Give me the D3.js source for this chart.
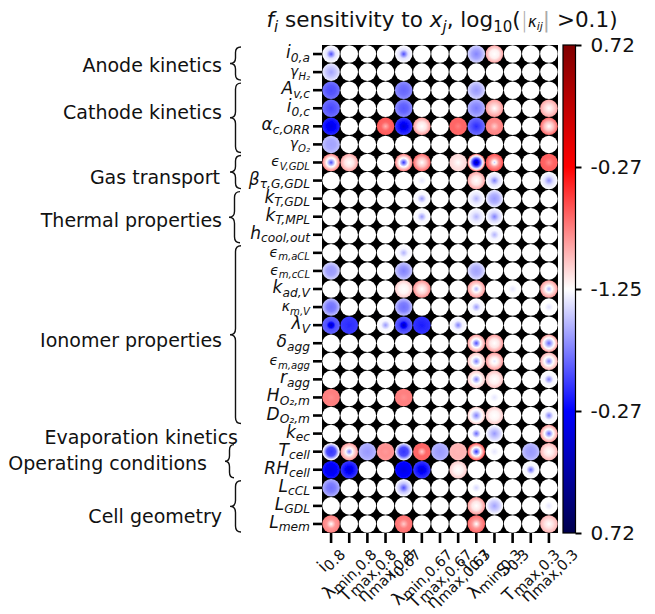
<!DOCTYPE html>
<html><head><meta charset="utf-8">
<script src="https://cdn.jsdelivr.net/npm/d3@7"></script>
<style>
body{margin:0;background:#fff;}
text{font-family:"DejaVu Sans",sans-serif;fill:#111;}
</style></head><body>
<svg id="c" width="655" height="614"></svg>
<script>
// ---------------- data ----------------
const rowMain = ["i","γ","A","i","α","γ","ϵ","β","k","k","h","ϵ","ϵ","k","κ","λ","δ","ϵ","r","H","D","k","T","RH","L","L","L"];
const rowSub  = ["0,a","H₂","v,c","0,c","c,ORR","O₂","V,GDL","τ,G,GDL","T,GDL","T,MPL","cool,out","m,aCL","m,cCL","ad,V","m,V","V","agg","m,agg","agg","O₂,m","O₂,m","ec","cell","cell","cCL","GDL","mem"];
const colMain = ["i","λ","T","η","i","λ","T","η","i","λ","S","T","η"];
const colSub  = ["0.8","min,0.8","max,0.8","max,0.8","0.67","min,0.67","max,0.67","max,0.67","0.3","min,0.3","0.3","max,0.3","max,0.3"];
const groupNames = ["Anode kinetics","Cathode kinetics","Gas transport","Thermal properties","Ionomer properties","Evaporation kinetics","Operating conditions","Cell geometry"];
const groupFirstRow = [0,2,6,8,11,21,22,24];
const groupLastRow  = [1,5,7,10,20,21,23,26];
const cbTickValues = [1,0.5,0,-0.5,-1];
const cbTickLabels = ["0.72","-0.27","-1.25","-0.27","0.72"];
// [row, col, centre value, mid-radius value, edge value] on the colour scale (-1..1); unlisted cells are 0
const cells = [
 [0,0,-0.35,-0.06,0],[0,4,-0.35,-0.06,0],[0,8,-0.24,-0.18,-0.08],[0,9,0,0.03,0.18],
 [1,0,-0.18,-0.12,-0.04],
 [2,0,-0.35,-0.33,-0.27],[2,4,-0.3,-0.28,-0.22],[2,8,-0.2,-0.16,-0.08],
 [3,0,-0.36,-0.33,-0.28],[3,4,-0.33,-0.3,-0.22],[3,8,-0.26,-0.22,-0.15],[3,9,0,0.1,0.2],[3,12,0,0.08,0.18],
 [4,0,-0.58,-0.5,-0.42],[4,3,0.15,0.3,0.33],[4,4,-0.62,-0.48,-0.38],[4,5,0,0.05,0.2],[4,7,0.25,0.3,0.3],[4,8,-0.42,-0.35,-0.28],[4,9,0.1,0.22,0.25],[4,12,0,0.12,0.3],
 [5,0,-0.18,-0.17,-0.12],
 [6,0,-0.35,0,0.25],[6,1,0,0.05,0.18],[6,4,-0.4,0,0.25],[6,5,0,0.12,0.3],[6,7,0,0.05,0.08],[6,8,-0.75,-0.3,0.3],[6,9,-0.1,0.2,0.35],[6,12,0.22,0.3,0.32],
 [7,5,-0.05,0,0],[7,8,0,0.05,0.18],[7,9,-0.25,-0.06,0],[7,12,-0.22,-0.06,0],
 [8,5,-0.2,-0.02,0],[8,8,-0.15,-0.05,0],[8,9,-0.2,-0.15,-0.03],
 [9,5,-0.2,-0.02,0],[9,8,-0.15,-0.05,0],[9,9,-0.25,-0.08,0],
 [10,9,-0.15,-0.02,0],
 [11,4,-0.15,-0.02,0],
 [12,0,-0.2,-0.18,-0.08],[12,4,-0.25,-0.2,-0.1],[12,8,-0.18,-0.15,-0.06],
 [13,4,0,0.02,0.1],[13,5,0,0.08,0.22],[13,8,-0.15,0.05,0.2],[13,10,-0.05,0,0],[13,12,-0.15,0.05,0.2],
 [14,0,-0.28,-0.25,-0.12],[14,4,-0.28,-0.25,-0.12],[14,8,-0.2,-0.02,0],[14,12,-0.06,0,0],
 [15,0,-0.7,-0.35,-0.3],[15,1,-0.42,-0.4,-0.38],[15,3,-0.2,-0.02,0],[15,4,-0.7,-0.38,-0.3],[15,5,-0.45,-0.42,-0.4],[15,7,-0.25,-0.03,0],
 [16,8,-0.35,0,0.2],[16,9,0,0.05,0.2],[16,12,-0.3,-0.05,0.2],
 [17,8,-0.25,0,0.12],[17,9,-0.05,0.05,0.2],[17,12,-0.25,0,0.15],
 [18,8,-0.25,0,0.1],[18,9,0,0.03,0.12],[18,12,-0.25,-0.02,0],
 [19,0,0.22,0.25,0.25],[19,4,0.22,0.25,0.25],[19,9,-0.05,0,0],
 [20,8,-0.25,-0.05,0.1],[20,9,0,0.02,0.1],[20,12,-0.25,-0.02,0],
 [21,8,-0.3,-0.01,0],[21,9,-0.2,-0.1,0],[21,12,-0.3,0,0.2],
 [22,0,-0.4,-0.35,0.05],[22,1,-0.25,0.05,0.2],[22,2,-0.2,-0.18,-0.14],[22,3,0.2,0.22,0.2],[22,4,-0.4,-0.35,0],[22,5,0.1,0.3,0.3],[22,6,-0.2,-0.18,-0.14],[22,7,0.14,0.15,0.14],[22,8,-0.4,0,0.35],[22,9,-0.05,0,0],[22,11,-0.2,-0.18,-0.12],[22,12,0,0.05,0.15],
 [23,0,-0.58,-0.52,-0.45],[23,1,-0.62,-0.48,-0.38],[23,4,-0.58,-0.52,-0.47],[23,5,-0.62,-0.48,-0.38],[23,7,0,0.03,0.1],[23,11,-0.3,-0.02,0],
 [24,0,-0.28,-0.25,-0.15],[24,4,-0.35,-0.12,0],[24,8,-0.08,0,0],
 [25,8,0,0.05,0.2],[25,9,-0.18,-0.1,0],[25,12,-0.05,0,0],
 [26,0,0,0.2,0.25],[26,4,0.1,0.25,0.28],[26,8,0,0.2,0.3],[26,12,0,0.06,0.15]
];

// ---------------- layout ----------------
const GL=322, GR=558, GT=45, GB=533;
const svg = d3.select("#c");
const defs = svg.append("defs");
const x = d3.scaleBand().domain(d3.range(colMain.length)).range([GL,GR]);
const y = d3.scaleBand().domain(d3.range(rowMain.length)).range([GT,GB]);
const cmap = d3.scaleLinear().domain([-1,-0.5,0,0.5,1])
  .range(["#00004d","#0000ff","#ffffff","#ff0000","#800000"]);
const cbScale = d3.scaleLinear().domain([-1,1]).range([GB,GT]);

const f = defs.append("filter").attr("id","soft").attr("x","-5%").attr("y","-5%").attr("width","110%").attr("height","110%");
f.append("feGaussianBlur").attr("stdDeviation",0.5);

svg.append("rect").attr("x",GL).attr("y",GT).attr("width",GR-GL).attr("height",GB-GT).attr("fill","#000");

const lookup = new Map(cells.map(d=>[d[0]+"_"+d[1], d]));
const all = [];
rowMain.forEach((_,r)=>colMain.forEach((_,c)=>{
  const d = lookup.get(r+"_"+c) || [r,c,0,0,0];
  all.push({r, c, v0:d[2], v1:d[3], v2:d[4]});
}));

all.forEach(d=>{
  const g = defs.append("radialGradient").attr("id",`g${d.r}_${d.c}`);
  d3.range(0,1.0001,0.1).forEach(t=>{
    const v = t<0.5 ? d.v0+(d.v1-d.v0)*t/0.5 : d.v1+(d.v2-d.v1)*(t-0.5)/0.5;
    g.append("stop").attr("offset",t).attr("stop-color",cmap(v));
  });
});

const rad = Math.min(x.bandwidth(), y.bandwidth())*0.485;
svg.append("g").attr("filter","url(#soft)")
  .selectAll("circle").data(all).join("circle")
  .attr("cx",d=>x(d.c)+x.bandwidth()/2)
  .attr("cy",d=>y(d.r)+y.bandwidth()/2)
  .attr("r",rad)
  .attr("fill",d=>`url(#g${d.r}_${d.c})`);

const yAx = svg.append("g").attr("transform",`translate(${GL},0)`)
  .call(d3.axisLeft(y).tickSize(9).tickSizeOuter(0).tickFormat(""));
yAx.select(".domain").remove();
yAx.selectAll(".tick line").attr("stroke","#000").attr("stroke-width",2.6);

const xAx = svg.append("g").attr("transform",`translate(0,${GB})`)
  .call(d3.axisBottom(x).tickSize(10).tickSizeOuter(0).tickFormat(""));
xAx.select(".domain").remove();
xAx.selectAll(".tick line").attr("stroke","#000").attr("stroke-width",2.6);

// row labels
const smallMain = new Set(["γ","ϵ","κ"]);
rowMain.forEach((m,i)=>{
  const fs = smallMain.has(m) ? 14 : 17;
  const t = svg.append("text")
    .attr("x",GL-12).attr("y",y(i)+y.bandwidth()/2+4)
    .attr("text-anchor","end").attr("font-size",fs).attr("font-style","italic")
    .attr("fill", m==="β" ? "#777" : "#111");
  t.append("tspan").text(m);
  t.append("tspan").attr("font-size",fs*0.72).attr("dy",3.5).text(rowSub[i]);
});

// column labels (rotated 45°, bounding box centred under tick)
colMain.forEach((m,i)=>{
  const fs = 17.5;
  const t = svg.append("text").attr("text-anchor","end").attr("font-size",fs);
  t.append("tspan").text(m);
  t.append("tspan").attr("font-size",14.5).attr("dy",3).text(colSub[i]);
  const L = t.node().getComputedTextLength();
  const s2 = Math.SQRT2;
  const ax = x(i)+x.bandwidth()/2 + (L+0.5*fs)/(2*s2);
  const ay = GB+10+1 + 0.75*fs/s2;
  t.attr("transform",`translate(${ax},${ay}) rotate(-45)`);
});

// colour bar
const cg = defs.append("linearGradient").attr("id","cbar").attr("x1",0).attr("y1",0).attr("x2",0).attr("y2",1);
d3.range(0,1.0001,0.05).forEach(t=>cg.append("stop").attr("offset",t).attr("stop-color",cmap(1-2*t)));
const CBX=563, CBW=12.5;
svg.append("rect").attr("x",CBX).attr("y",GT).attr("width",CBW).attr("height",GB-GT)
  .attr("fill","url(#cbar)").attr("stroke","#000").attr("stroke-width",1.2);
const cAx = svg.append("g").attr("transform",`translate(${CBX+CBW},0)`)
  .call(d3.axisRight(cbScale).tickValues(cbTickValues).tickFormat((d,i)=>cbTickLabels[i]).tickSize(6).tickPadding(9));
cAx.select(".domain").remove();
cAx.selectAll(".tick line").attr("stroke","#000").attr("stroke-width",2);
cAx.selectAll(".tick text").attr("font-size",20).attr("fill","#111").attr("font-family","DejaVu Sans, sans-serif");

// title
const tt = svg.append("text").attr("x",(GL+GR)/2+2).attr("y",27).attr("text-anchor","middle").attr("font-size",21.5);
tt.append("tspan").attr("font-style","italic").text("f");
tt.append("tspan").attr("font-style","italic").attr("font-size",15).attr("dy",5).text("i");
tt.append("tspan").attr("dy",-5).text(" sensitivity to ");
tt.append("tspan").attr("font-style","italic").text("x");
tt.append("tspan").attr("font-style","italic").attr("font-size",15).attr("dy",5).text("j");
tt.append("tspan").attr("dy",-5).text(", log");
tt.append("tspan").attr("font-size",15).attr("dy",5).text("10");
tt.append("tspan").attr("dy",-5).text("(");
tt.append("tspan").attr("fill","#aaa").attr("font-weight",200).text("|");
tt.append("tspan").attr("font-style","italic").attr("font-size",15).text("κ");
tt.append("tspan").attr("font-style","italic").attr("font-size",11).attr("dy",3).text("ij");
tt.append("tspan").attr("fill","#aaa").attr("dy",-3).text("|");
tt.append("tspan").text(" >0.1)");

// group labels & braces
const labelRight = [222,222,220,222,222,238,207,222];
const labelDy    = [2,-5,6,4,6,4,3,11];
const braceX     = [230,230,230,229,230,null,225,230];
function bracePath(x0,w,y0,y1){
  const ym=(y0+y1)/2, xm=x0+w/2, r=Math.min(6,(y1-y0)/6);
  return `M${x0+w},${y0} Q${xm},${y0} ${xm},${y0+r} L${xm},${ym-r} Q${xm},${ym} ${x0},${ym}`+
         ` Q${xm},${ym} ${xm},${ym+r} L${xm},${y1-r} Q${xm},${y1} ${x0+w},${y1}`;
}
groupNames.forEach((g,i)=>{
  const top = y(groupFirstRow[i]), bot = y(groupLastRow[i])+y.bandwidth();
  const mid = (top+bot)/2;
  svg.append("text").attr("x",labelRight[i]).attr("y",mid+labelDy[i]+6.5)
    .attr("text-anchor","end").attr("font-size",19).text(g);
  if (groupFirstRow[i]!==groupLastRow[i]) {
    const w = (i===6) ? 9 : 11;
    svg.append("path").attr("d",bracePath(braceX[i],w,top+2,bot-1))
      .attr("fill","none").attr("stroke","#111").attr("stroke-width",1.4);
  }
});
</script>
</body></html>
